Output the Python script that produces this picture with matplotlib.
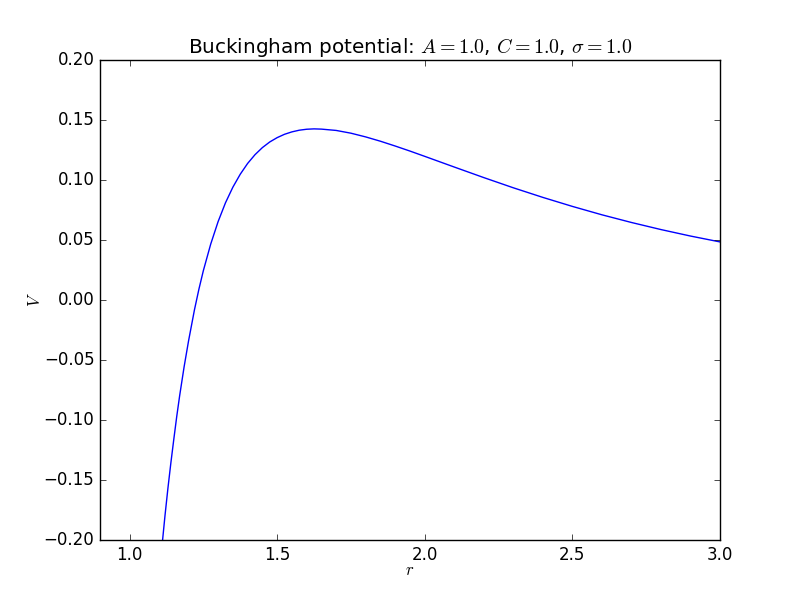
import numpy as np
import matplotlib
matplotlib.use("Agg")
import matplotlib.pyplot as plt

plt.style.use('classic')

# Points (r, V)
r = [1.10, 1.11, 1.12, 1.13, 1.14, 1.15, 1.16, 1.17, 1.185, 1.20, 1.22, 1.235,
     1.25, 1.275, 1.30, 1.325, 1.35, 1.375, 1.40, 1.425, 1.45, 1.475, 1.50,
     1.525, 1.55, 1.575, 1.60, 1.625, 1.65, 1.70, 1.75, 1.80, 1.85, 1.90,
     1.95, 2.00, 2.10, 2.20, 2.30, 2.40, 2.50, 2.60, 2.70, 2.80, 2.90, 3.00]
V = [-0.232, -0.205, -0.180, -0.157, -0.1358, -0.116, -0.0969, -0.0794,
     -0.0555, -0.034, -0.0081, 0.0090, 0.0244, 0.0466, 0.0653, 0.0810, 0.0940,
     0.1048, 0.1138, 0.1211, 0.1270, 0.1317, 0.1353, 0.1381, 0.1401, 0.1415,
     0.1423, 0.1426, 0.1424, 0.1413, 0.1390, 0.1359, 0.1323, 0.1283, 0.1241,
     0.1197, 0.1108, 0.1020, 0.0935, 0.0855, 0.0780, 0.0710, 0.0646, 0.0587,
     0.0533, 0.0484]

fig = plt.figure(figsize=(8, 6), dpi=100)
ax = fig.add_subplot(111)
ax.plot(r, V, 'b-')
ax.set_xlim(0.9, 3.0)
ax.set_ylim(-0.2, 0.2)
ax.set_xticks([1.0, 1.5, 2.0, 2.5, 3.0])
ax.set_xlabel('$r$', labelpad=-2)
ax.set_ylabel('$V$', labelpad=0)
ax.set_title(r'Buckingham potential: $A = 1.0$, $C = 1.0$, $\sigma = 1.0$')
fig.savefig('out.png', dpi=100, facecolor='white')
